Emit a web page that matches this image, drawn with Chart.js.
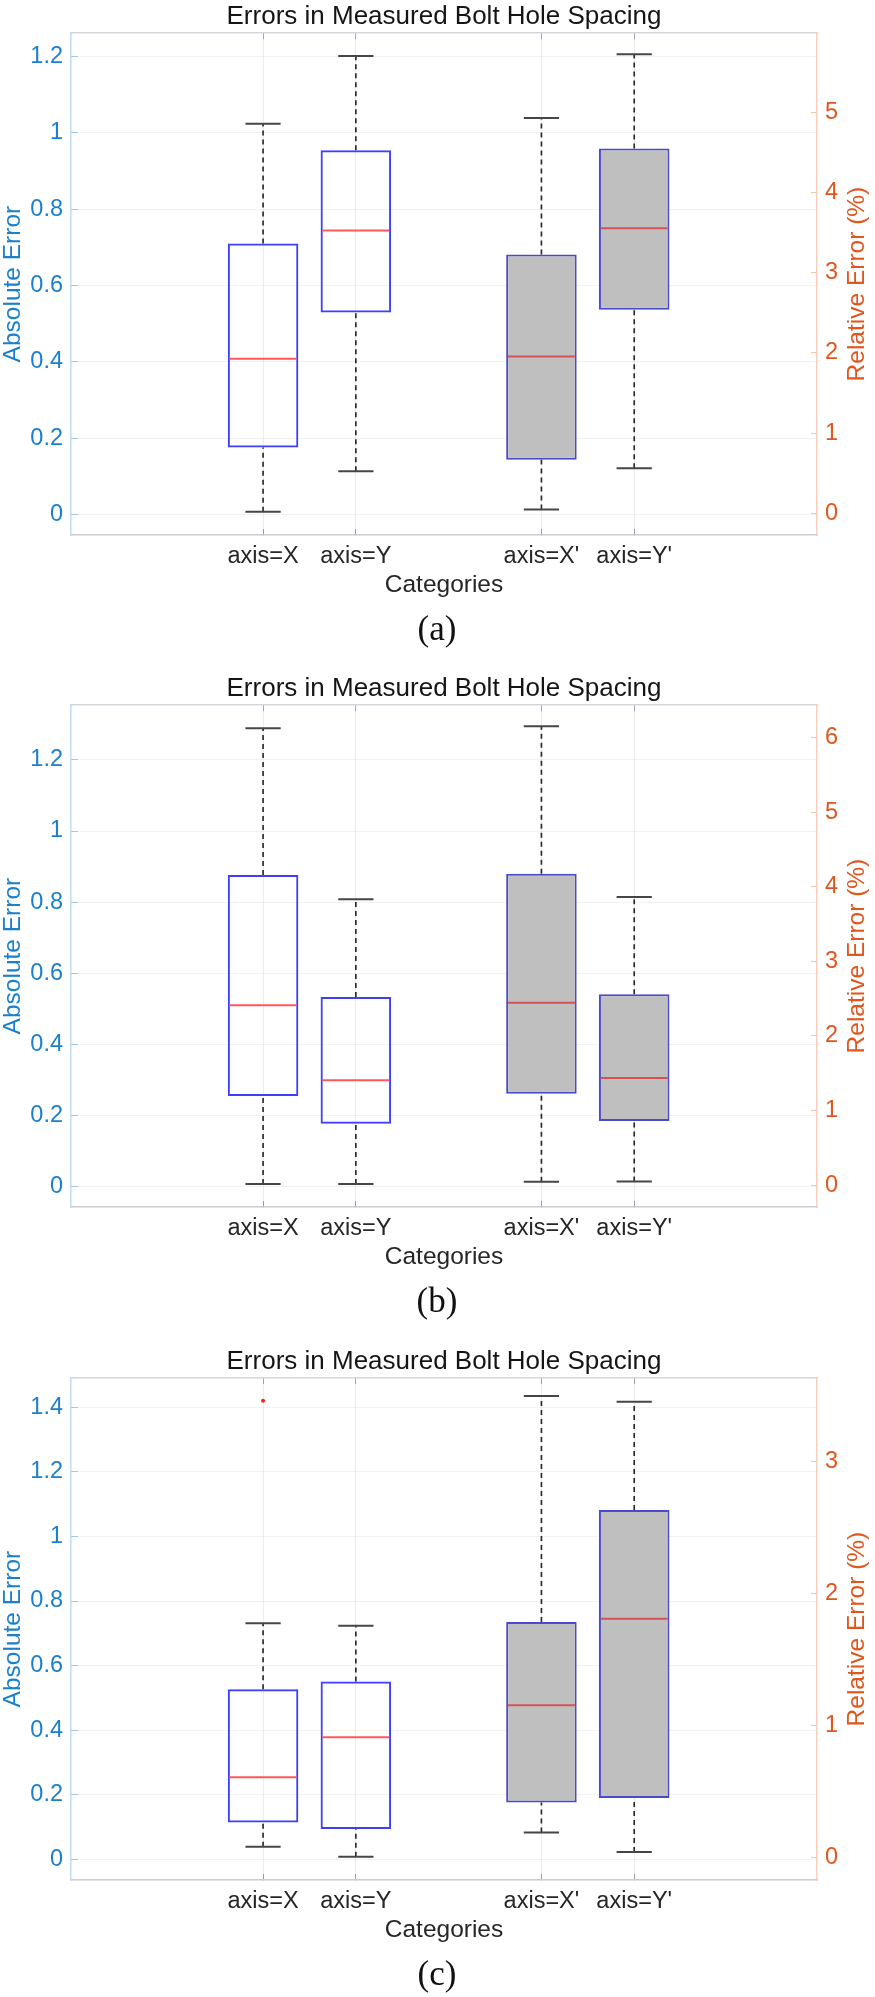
<!DOCTYPE html>
<html>
<head>
<meta charset="utf-8">
<script src="https://cdn.jsdelivr.net/npm/chart.js@4.4.1/dist/chart.umd.min.js"></script>
<style>
html,body{margin:0;padding:0;background:#fff;}
body{width:875px;height:1997px;position:relative;overflow:hidden;font-family:"Liberation Sans",Arial,Helvetica,sans-serif;}
.panel{position:absolute;left:0;width:875px;height:672px;}
.panel canvas{position:absolute;left:0;top:0;}
.cap{position:absolute;left:437px;top:612px;transform:translateX(-50%);font-family:"Liberation Serif","Times New Roman",serif;font-size:35px;line-height:34px;color:#111;}
</style>
</head>
<body>
<div class="panel" style="top:0px"><canvas id="ca" width="875" height="615"></canvas><div class="cap">(a)</div></div>
<div class="panel" style="top:672px"><canvas id="cb" width="875" height="615"></canvas><div class="cap">(b)</div></div>
<div class="panel" style="top:1345px"><canvas id="cc" width="875" height="615"></canvas><div class="cap">(c)</div></div>
<script>
// ---------- data ----------
const titleText = 'Errors in Measured Bolt Hole Spacing';
const leftTitle = 'Absolute Error';
const rightTitle = 'Relative Error (%)';
const xTitle = 'Categories';
const categories = ['axis=X', 'axis=Y', "axis=X'", "axis=Y'"];
const positions = [1, 2, 4, 5];
const xRange = [-1.07, 6.97];

// panel (a)
const aLower  = [0.007, 0.113, 0.013, 0.121];
const aQ1     = [0.175, 0.529, 0.143, 0.536];
const aMedian = [0.408, 0.744, 0.414, 0.750];
const aQ3     = [0.710, 0.954, 0.681, 0.959];
const aUpper  = [1.024, 1.201, 1.039, 1.206];
const aLeftTicks  = [0, 0.2, 0.4, 0.6, 0.8, 1, 1.2];
const aRightTicks = [0, 1, 2, 3, 4, 5];
const aLeftRange  = [-0.054, 1.261];
const aRightRange = [-0.27, 5.985];

// panel (b)
const bLower  = [0.007, 0.007, 0.013, 0.014];
const bQ1     = [0.254, 0.176, 0.261, 0.184];
const bMedian = [0.510, 0.299, 0.517, 0.305];
const bQ3     = [0.876, 0.533, 0.880, 0.541];
const bUpper  = [1.289, 0.808, 1.295, 0.814];
const bLeftTicks  = [0, 0.2, 0.4, 0.6, 0.8, 1, 1.2];
const bRightTicks = [0, 1, 2, 3, 4, 5, 6];
const bLeftRange  = [-0.058, 1.354];
const bRightRange = [-0.294, 6.435];

// panel (c)
const cLower  = [0.039, 0.008, 0.083, 0.023];
const cQ1     = [0.114, 0.094, 0.176, 0.190];
const cMedian = [0.254, 0.378, 0.477, 0.745];
const cQ3     = [0.527, 0.551, 0.735, 1.082];
const cUpper  = [0.731, 0.723, 1.435, 1.417];
const cOutlierPos = [1];
const cOutlierVal = [1.42];
const cLeftTicks  = [0, 0.2, 0.4, 0.6, 0.8, 1, 1.2, 1.4];
const cRightTicks = [0, 1, 2, 3];
const cLeftRange  = [-0.064, 1.49];
const cRightRange = [-0.17, 3.627];

// ---------- styling ----------
const FONT = '"Liberation Sans", Arial, Helvetica, sans-serif';
const BLUE = '#1a7fcc';
const ORANGE = '#e0561c';
const BOX_W = 0.76;
const CAP_W = 0.38;
const MED_HALF = 0.36;
const TICK_SIZE = 23.5;
const LABEL_SIZE = 24.5;

Chart.defaults.font.family = FONT;

function fmt(v) { return String(parseFloat(Number(v).toFixed(3))); }

function segs(idx, fn) {
  const pts = [];
  idx.forEach(i => {
    fn(i).forEach(seg => {
      seg.forEach(p => pts.push(p));
      pts.push({x: positions[i], y: null});
    });
  });
  return pts;
}

// right-axis title reading bottom-to-top, like the left one
const rightTitlePlugin = {
  id: 'rightTitle',
  afterDraw(chart) {
    const ctx = chart.ctx, area = chart.chartArea;
    ctx.save();
    ctx.translate(857, (area.top + area.bottom) / 2);
    ctx.rotate(-Math.PI / 2);
    ctx.font = LABEL_SIZE + 'px ' + FONT;
    ctx.fillStyle = ORANGE;
    ctx.textAlign = 'center';
    ctx.textBaseline = 'middle';
    ctx.fillText(rightTitle, 0, 0);
    ctx.restore();
  }
};

function makeChart(id, d) {
  const white = [0, 1], gray = [2, 3];
  const datasets = [
    {type: 'bar', data: white.map(i => ({x: positions[i], y: [d.q1[i], d.q3[i]]})),
     backgroundColor: 'rgba(0,0,0,0)', borderColor: 'rgb(62,62,255)', borderWidth: 2,
     borderSkipped: false, grouped: false, barPercentage: BOX_W, categoryPercentage: 1, order: 5},
    {type: 'bar', data: gray.map(i => ({x: positions[i], y: [d.q1[i], d.q3[i]]})),
     backgroundColor: 'rgb(191,191,191)', borderColor: 'rgb(74,74,205)', borderWidth: 2,
     borderSkipped: false, grouped: false, barPercentage: BOX_W, categoryPercentage: 1, order: 5},
    {type: 'line', data: segs([0,1,2,3], i => [
        [{x: positions[i], y: d.q3[i]}, {x: positions[i], y: d.upper[i]}],
        [{x: positions[i], y: d.lower[i]}, {x: positions[i], y: d.q1[i]}]]),
     borderColor: 'rgb(45,45,45)', borderWidth: 1.7, borderDash: [5, 4],
     pointRadius: 0, spanGaps: false, fill: false, order: 3},
    {type: 'line', data: segs([0,1,2,3], i => [
        [{x: positions[i] - CAP_W/2, y: d.upper[i]}, {x: positions[i] + CAP_W/2, y: d.upper[i]}],
        [{x: positions[i] - CAP_W/2, y: d.lower[i]}, {x: positions[i] + CAP_W/2, y: d.lower[i]}]]),
     borderColor: 'rgb(70,70,70)', borderWidth: 2, pointRadius: 0, spanGaps: false, fill: false, order: 2},
    {type: 'line', data: segs(white, i => [[{x: positions[i] - MED_HALF, y: d.median[i]}, {x: positions[i] + MED_HALF, y: d.median[i]}]]),
     borderColor: 'rgb(255,88,88)', borderWidth: 2, pointRadius: 0, spanGaps: false, fill: false, order: 1},
    {type: 'line', data: segs(gray, i => [[{x: positions[i] - MED_HALF, y: d.median[i]}, {x: positions[i] + MED_HALF, y: d.median[i]}]]),
     borderColor: 'rgb(214,82,82)', borderWidth: 2, pointRadius: 0, spanGaps: false, fill: false, order: 1}
  ];
  if (d.outPos) {
    datasets.push({type: 'line', data: d.outPos.map((p, k) => ({x: p, y: d.outVal[k]})),
      showLine: false, pointRadius: 2, pointBorderWidth: 0, pointBackgroundColor: 'rgb(255,30,30)',
      pointBorderColor: 'rgb(255,30,30)', order: 0});
  }
  const xTicks = ax => { ax.ticks = positions.map(v => ({value: v})); };
  return new Chart(document.getElementById(id), {
    type: 'bar',
    data: {datasets},
    plugins: [rightTitlePlugin],
    options: {
      responsive: false,
      animation: false,
      events: [],
      layout: {padding: 0},
      plugins: {
        legend: {display: false},
        tooltip: {enabled: false},
        title: {display: true, text: titleText, color: '#151515', fullSize: false,
                font: {family: FONT, size: 26, weight: 'normal'}, padding: {top: 1, bottom: 1}}
      },
      scales: {
        x: {type: 'linear', position: 'bottom', min: xRange[0], max: xRange[1], offset: false, bounds: 'data',
            afterBuildTicks: xTicks,
            afterFit: ax => { ax.height = 80; },
            ticks: {autoSkip: false, maxRotation: 0, minRotation: 0, padding: 13, color: '#262626',
                    font: {family: FONT, size: TICK_SIZE}, callback: (v, i) => categories[i]},
            grid: {color: 'rgba(0,0,0,0.075)', offset: false, drawTicks: true, tickLength: -6,
                   tickColor: 'rgba(0,0,0,0.35)'},
            border: {color: '#c8cdd3', width: 1.5},
            title: {display: true, text: xTitle, color: '#262626',
                    font: {family: FONT, size: LABEL_SIZE}, padding: {top: 0, bottom: 15}}},
        x2: {type: 'linear', position: 'top', min: xRange[0], max: xRange[1], offset: false, bounds: 'data',
             afterBuildTicks: xTicks,
             afterFit: ax => { ax.height = 0; },
             ticks: {display: false},
             grid: {drawOnChartArea: false, drawTicks: true, tickLength: -6, tickColor: 'rgba(0,0,0,0.3)', offset: false},
             border: {color: '#d3d7dc', width: 1.5}},
        y: {type: 'linear', position: 'left', min: d.leftRange[0], max: d.leftRange[1], bounds: 'data',
            afterBuildTicks: ax => { ax.ticks = d.leftTicks.map(v => ({value: v})); },
            afterFit: ax => { ax.width = 71; },
            ticks: {padding: 15, color: BLUE, font: {family: FONT, size: TICK_SIZE}, callback: fmt},
            grid: {color: 'rgba(0,0,0,0.05)', drawTicks: true, tickLength: -7, tickColor: 'rgba(30,130,210,0.4)'},
            border: {color: '#c2dbf0', width: 1.5},
            title: {display: true, text: leftTitle, color: BLUE,
                    font: {family: FONT, size: LABEL_SIZE, lineHeight: 1.1}, padding: {top: 0, bottom: 0}}},
        y2: {type: 'linear', position: 'right', min: d.rightRange[0], max: d.rightRange[1], bounds: 'data',
             afterBuildTicks: ax => { ax.ticks = d.rightTicks.map(v => ({value: v})); },
             afterFit: ax => { ax.width = 58; },
             ticks: {padding: 14, color: ORANGE, font: {family: FONT, size: TICK_SIZE}, callback: fmt},
             grid: {drawOnChartArea: false, drawTicks: true, tickLength: -6, tickColor: 'rgba(224,86,28,0.35)'},
             border: {color: '#f7cfbc', width: 1.5}}
      }
    }
  });
}

makeChart('ca', {lower: aLower, q1: aQ1, median: aMedian, q3: aQ3, upper: aUpper,
  leftTicks: aLeftTicks, rightTicks: aRightTicks, leftRange: aLeftRange, rightRange: aRightRange});
makeChart('cb', {lower: bLower, q1: bQ1, median: bMedian, q3: bQ3, upper: bUpper,
  leftTicks: bLeftTicks, rightTicks: bRightTicks, leftRange: bLeftRange, rightRange: bRightRange});
makeChart('cc', {lower: cLower, q1: cQ1, median: cMedian, q3: cQ3, upper: cUpper,
  outPos: cOutlierPos, outVal: cOutlierVal,
  leftTicks: cLeftTicks, rightTicks: cRightTicks, leftRange: cLeftRange, rightRange: cRightRange});
</script>
</body>
</html>
